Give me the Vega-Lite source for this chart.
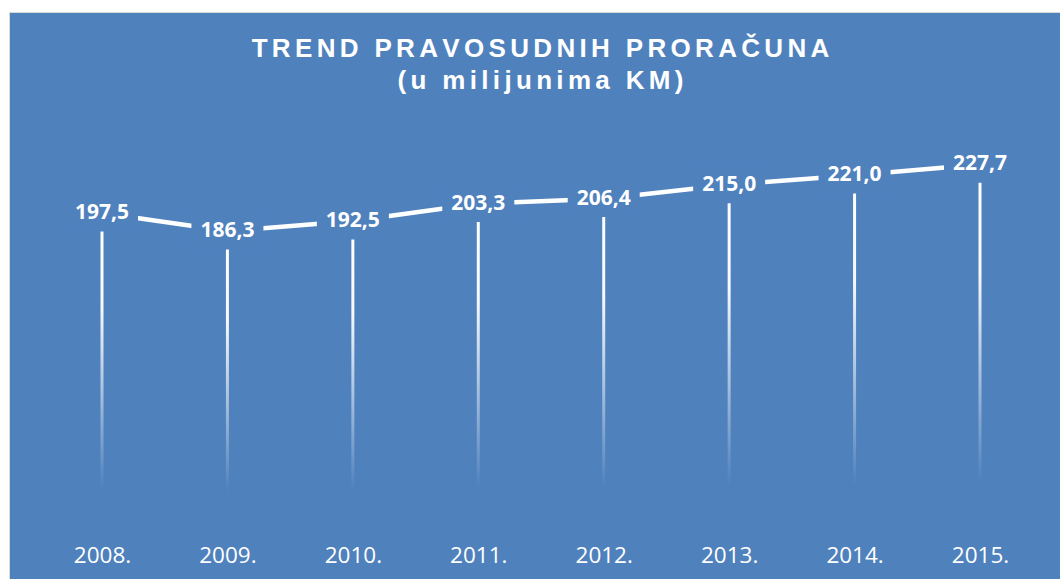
{
  "$schema": "https://vega.github.io/schema/vega-lite/v6.json",
  "autosize": {"type": "none"},
  "width": 1053,
  "height": 569,
  "padding": {"left": 9, "top": 12, "right": 0, "bottom": 0},
  "background": "#ffffff",
  "config": {
    "view": {"fill": "#4F81BD", "stroke": "#d9d9d9", "strokeWidth": 1},
    "locale": {"number": {"decimal": ",", "thousands": ".", "grouping": [3], "currency": ["", " KM"]}}
  },
  "title": {
    "text": ["T\u2006R\u2006E\u2006N\u2006D\u2006 \u2006P\u2006R\u2006A\u2006V\u2006O\u2006S\u2006U\u2006D\u2006N\u2006I\u2006H\u2006 \u2006P\u2006R\u2006O\u2006R\u2006A\u2006Č\u2006U\u2006N\u2006A", "(\u2006u\u2006 \u2006m\u2006i\u2006l\u2006i\u2006j\u2006u\u2006n\u2006i\u2006m\u2006a\u2006 \u2006K\u2006M\u2006)"],
    "font": "Liberation Sans",
    "fontSize": 26,
    "fontWeight": "bold",
    "color": "#ffffff",
    "anchor": "middle",
    "frame": "group",
    "lineHeight": 32.5,
    "offset": -82,
    "dx": 5
  },
  "data": {
    "values": [
      {"godina": "2008.", "iznos": 197.5},
      {"godina": "2009.", "iznos": 186.3},
      {"godina": "2010.", "iznos": 192.5},
      {"godina": "2011.", "iznos": 203.3},
      {"godina": "2012.", "iznos": 206.4},
      {"godina": "2013.", "iznos": 215.0},
      {"godina": "2014.", "iznos": 221.0},
      {"godina": "2015.", "iznos": 227.7}
    ]
  },
  "encoding": {
    "x": {
      "field": "godina",
      "type": "ordinal",
      "sort": null,
      "scale": {"type": "point", "range": [93, 971], "padding": 0},
      "axis": {
        "orient": "bottom",
        "offset": -48,
        "domain": false,
        "ticks": false,
        "grid": false,
        "labelFont": "Open Sans",
        "labelFontSize": 22.5,
        "labelColor": "#ffffff",
        "labelPadding": 11.5,
        "labelAngle": 0,
        "title": null
      }
    },
    "y": {
      "field": "iznos",
      "type": "quantitative",
      "scale": {"domain": [0, 250], "range": [519, 116.5], "nice": false, "zero": false},
      "axis": null
    }
  },
  "layer": [
    {
      "mark": {
        "type": "bar",
        "width": 3,
        "fill": {
          "gradient": "linear",
          "x1": 0, "y1": 0, "x2": 0, "y2": 1,
          "stops": [
            {"offset": 0, "color": "rgba(255,255,255,1)"},
            {"offset": 0.3, "color": "rgba(255,255,255,0.95)"},
            {"offset": 0.87, "color": "rgba(255,255,255,0)"}
          ]
        }
      },
      "encoding": {"y2": {"datum": 0}}
    },
    {
      "mark": {"type": "line", "color": "#ffffff", "strokeWidth": 4.5},
      "encoding": {}
    },
    {
      "mark": {
        "type": "point",
        "filled": true,
        "shape": "M-1,-0.51L1,-0.51L1,0.51L-1,0.51Z",
        "size": 5184,
        "color": "#4F81BD",
        "opacity": 1
      }
    },
    {
      "mark": {
        "type": "text",
        "font": "Open Sans",
        "fontWeight": "bold",
        "fontSize": 21,
        "color": "#ffffff",
        "align": "center",
        "baseline": "middle"
      },
      "encoding": {"text": {"field": "iznos", "type": "quantitative", "format": ".1f"}}
    }
  ]
}
